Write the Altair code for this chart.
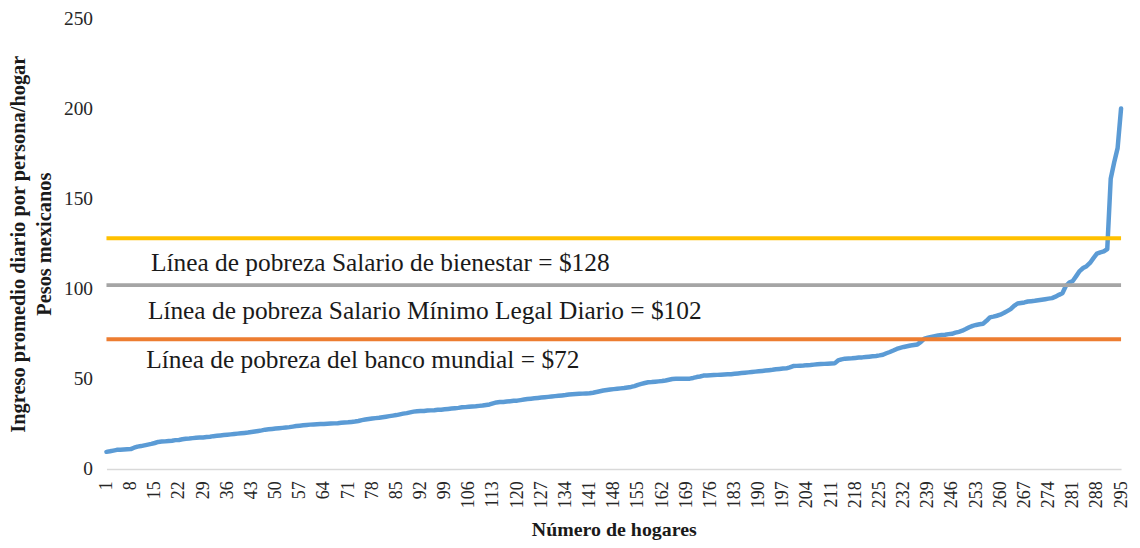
import altair as alt
import pandas as pd

# Household index (sorted by income)
hogares = list(range(1, 296))

# Average daily income per person/household (Mexican pesos)
ingreso = [
    9.5, 9.8, 10.2, 10.6, 10.7, 10.8, 10.9, 11.0, 11.8, 12.4,
    12.7, 13.1, 13.5, 13.9, 14.4, 15.0, 15.2, 15.3, 15.5, 15.7,
    16.0, 16.1, 16.5, 16.8, 16.9, 17.1, 17.3, 17.4, 17.5, 17.7,
    17.9, 18.2, 18.4, 18.6, 18.8, 19.0, 19.2, 19.4, 19.6, 19.8,
    20.0, 20.2, 20.5, 20.8, 21.1, 21.4, 21.8, 22.0, 22.2, 22.4,
    22.6, 22.8, 23.0, 23.2, 23.5, 23.8, 24.0, 24.2, 24.4, 24.6,
    24.7, 24.8, 24.9, 25.0, 25.1, 25.2, 25.3, 25.4, 25.6, 25.8,
    25.9, 26.1, 26.3, 26.6, 27.1, 27.4, 27.7, 28.0, 28.2, 28.4,
    28.7, 29.0, 29.3, 29.6, 29.9, 30.3, 30.7, 31.0, 31.4, 31.8,
    32.0, 32.1, 32.2, 32.4, 32.5, 32.6, 32.8, 32.9, 33.1, 33.3,
    33.5, 33.7, 33.9, 34.2, 34.3, 34.5, 34.7, 34.8, 35.0, 35.2,
    35.5, 35.8, 36.4, 36.9, 37.1, 37.2, 37.4, 37.6, 37.8, 37.9,
    38.2, 38.5, 38.8, 39.0, 39.2, 39.4, 39.6, 39.8, 40.0, 40.2,
    40.4, 40.6, 40.8, 41.0, 41.3, 41.5, 41.6, 41.7, 41.8, 41.9,
    42.0, 42.3, 42.7, 43.1, 43.5, 43.8, 44.1, 44.3, 44.5, 44.7,
    44.9, 45.2, 45.5, 46.0, 46.7, 47.2, 47.7, 48.1, 48.2, 48.4,
    48.6, 48.8, 49.1, 49.5, 49.9, 50.0, 50.0, 50.0, 50.1, 50.1,
    50.5, 51.0, 51.3, 51.8, 51.9, 52.0, 52.1, 52.2, 52.3, 52.4,
    52.5, 52.6, 52.8, 53.0, 53.2, 53.4, 53.6, 53.8, 54.0, 54.2,
    54.4, 54.6, 54.8, 55.0, 55.3, 55.5, 55.7, 55.8, 56.4, 57.1,
    57.2, 57.3, 57.4, 57.6, 57.7, 57.9, 58.1, 58.2, 58.3, 58.4,
    58.5, 58.6, 60.2, 60.8, 61.2, 61.3, 61.4, 61.6, 61.8, 61.9,
    62.1, 62.3, 62.5, 62.7, 63.0, 63.4, 64.2, 64.9, 65.7, 66.6,
    67.2, 67.7, 68.1, 68.5, 68.8, 69.1, 70.5, 72.3, 72.8, 73.3,
    73.7, 74.1, 74.3, 74.5, 74.8, 75.0, 75.6, 76.1, 76.7, 77.6,
    78.6, 79.4, 79.9, 80.3, 80.6, 82.2, 84.1, 84.5, 85.0, 85.6,
    86.5, 87.6, 88.7, 90.5, 91.8, 92.1, 92.4, 92.9, 93.1, 93.3,
    93.6, 93.9, 94.2, 94.5, 94.8, 95.6, 96.6, 97.5, 101.5, 103.4,
    104.3, 107.0, 109.8, 111.5, 112.5, 114.3, 117.0, 119.5, 120.2, 120.7,
    122.0, 161.0, 170.0, 178.0, 200.0,
]

# Tick labels
x_ticks = [1, 8, 15, 22, 29, 36, 43, 50, 57, 64, 71, 78, 85, 92, 99, 106, 113,
           120, 127, 134, 141, 148, 155, 162, 169, 176, 183, 190, 197, 204, 211,
           218, 225, 232, 239, 246, 253, 260, 267, 274, 281, 288, 295]
y_ticks = [0, 50, 100, 150, 200, 250]

# Poverty lines
lineas_valor = [128, 102, 72]
lineas_color = ["#FFC000", "#A5A5A5", "#ED7D31"]

# Annotations
etiquetas_texto = [
    "Línea de pobreza Salario de bienestar = $128",
    "Línea de pobreza Salario Mínimo Legal Diario = $102",
    "Línea de pobreza del banco mundial = $72",
]
etiquetas_x = [13.9, 13.0, 12.5]
etiquetas_y = [114.2, 87.8, 60.4]

df = pd.DataFrame({"hogar": hogares, "ingreso": ingreso})
df_lineas = pd.DataFrame({"ingreso": lineas_valor, "color": lineas_color})
df_etq = pd.DataFrame({"hogar": etiquetas_x, "ingreso": etiquetas_y, "texto": etiquetas_texto})

SERIF = "Liberation Serif"

xscale = alt.Scale(domain=[1, 295], nice=False, zero=False)
yscale = alt.Scale(domain=[0, 250], nice=False, zero=True)

xaxis = alt.Axis(
    values=x_ticks, labelAngle=-90, title="Número de hogares",
    grid=False, ticks=False, domainColor="#D9D9D9", domainWidth=1.5,
    labelFont=SERIF, labelFontSize=18, labelColor="#262626", labelPadding=12,
    labelFlush=False, labelOverlap=False, labelBound=False,
    titleFont=SERIF, titleFontSize=20, titleFontWeight="bold",
    titleColor="#1a1a1a", titlePadding=12,
)
yaxis = alt.Axis(
    values=y_ticks, grid=False, ticks=False, domain=False,
    labelFont=SERIF, labelFontSize=19.5, labelColor="#262626", labelPadding=14,
    title=["Ingreso promedio diario por persona/hogar", "Pesos mexicanos"],
    titleFont=SERIF, titleFontSize=20.5, titleFontWeight="bold",
    titleColor="#1a1a1a", titleLineHeight=26, titlePadding=9,
)

line = alt.Chart(df).mark_line(
    color="#5B9BD5", strokeWidth=4.5, strokeJoin="round", strokeCap="round"
).encode(
    x=alt.X("hogar:Q", scale=xscale, axis=xaxis),
    y=alt.Y("ingreso:Q", scale=yscale, axis=yaxis),
)

rules = alt.Chart(df_lineas).mark_rule(strokeWidth=4).encode(
    y=alt.Y("ingreso:Q", scale=yscale, axis=yaxis),
    color=alt.Color("color:N", scale=None),
)

texts = alt.Chart(df_etq).mark_text(
    align="left", baseline="middle", font=SERIF, fontSize=25.5, color="#1a1a1a"
).encode(
    x=alt.X("hogar:Q", scale=xscale, axis=xaxis),
    y=alt.Y("ingreso:Q", scale=yscale, axis=yaxis),
    text="texto:N",
)

chart = alt.layer(line, rules, texts).properties(
    width=1020, height=453,
    autosize=alt.AutoSizeParams(type="none"),
    padding={"left": 99, "top": 9, "right": 11, "bottom": 71},
    background="white",
).configure_view(stroke=None)

chart.save("out.html", embed_options={"renderer": "svg", "actions": False})
